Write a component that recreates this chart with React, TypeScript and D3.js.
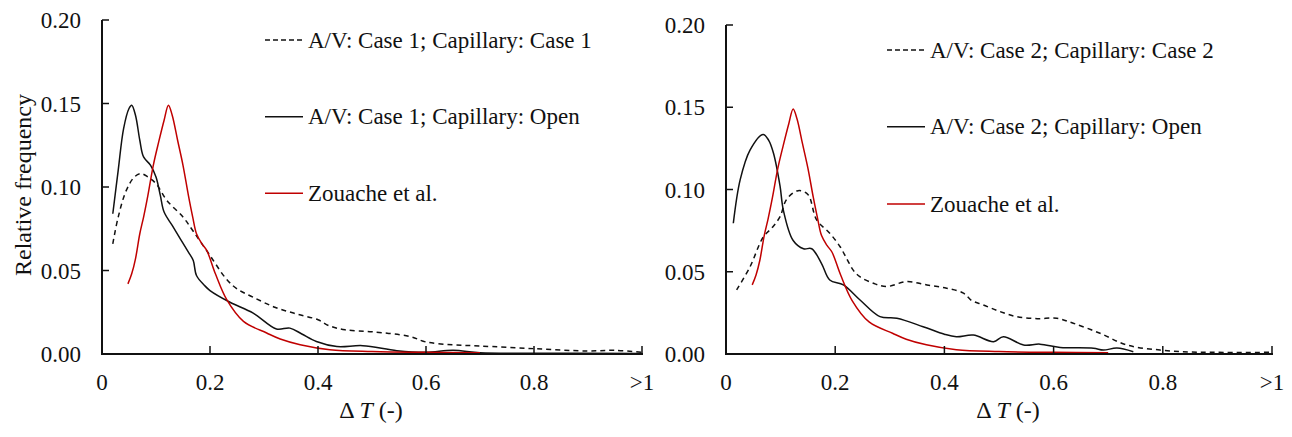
import { useEffect, useRef } from "react";
import * as d3 from "d3";

type Pt = [number, number];

// x ticks (ΔT) and y ticks (relative frequency)
const xTicks = [0, 0.2, 0.4, 0.6, 0.8, 1.0];
const xTickLabels = ["0", "0.2", "0.4", "0.6", "0.8", ">1"];
const yTicks = [0, 0.05, 0.1, 0.15, 0.2];
const yTickLabels = ["0.00", "0.05", "0.10", "0.15", "0.20"];

const legendLeft = [
  "A/V: Case 1; Capillary: Case 1",
  "A/V: Case 1; Capillary: Open",
  "Zouache et al.",
];
const legendRight = [
  "A/V: Case 2; Capillary: Case 2",
  "A/V: Case 2; Capillary: Open",
  "Zouache et al.",
];

// A/V: Case 1; Capillary: Case 1 (dashed)
const case1Case1: Pt[] = [
  [0.02, 0.066], [0.03, 0.082], [0.045, 0.098], [0.06, 0.106], [0.072, 0.108],
  [0.085, 0.106], [0.1, 0.102], [0.12, 0.092], [0.15, 0.082], [0.17, 0.073],
  [0.2, 0.059], [0.23, 0.045], [0.25, 0.039], [0.28, 0.034], [0.32, 0.028],
  [0.36, 0.024], [0.4, 0.0205], [0.42, 0.017], [0.45, 0.0145], [0.5, 0.0133],
  [0.57, 0.0105], [0.6, 0.0072], [0.65, 0.0055], [0.7, 0.0048], [0.8, 0.0032],
  [0.9, 0.0018], [0.95, 0.0022], [1.0, 0.001],
];

// A/V: Case 1; Capillary: Open (solid)
const case1Open: Pt[] = [
  [0.02, 0.084], [0.03, 0.11], [0.04, 0.135], [0.05, 0.147], [0.055, 0.149],
  [0.062, 0.143], [0.07, 0.128], [0.077, 0.118], [0.09, 0.113], [0.1, 0.106],
  [0.108, 0.095], [0.115, 0.085], [0.13, 0.077], [0.145, 0.069], [0.16, 0.061],
  [0.169, 0.056], [0.175, 0.047], [0.19, 0.041], [0.2, 0.038], [0.237, 0.031],
  [0.28, 0.0245], [0.323, 0.015], [0.348, 0.0155], [0.37, 0.012], [0.397, 0.0075],
  [0.435, 0.0045], [0.483, 0.005], [0.546, 0.002], [0.6, 0.001], [0.65, 0.0022],
  [0.7, 0.0008], [0.8, 0.0005], [1.0, 0.0003],
];

// A/V: Case 2; Capillary: Case 2 (dashed)
const case2Case2: Pt[] = [
  [0.0195, 0.039], [0.044, 0.053], [0.068, 0.071], [0.085, 0.077], [0.099, 0.0835],
  [0.111, 0.094], [0.132, 0.0993], [0.15, 0.097], [0.166, 0.0815], [0.19, 0.0734],
  [0.209, 0.0652], [0.221, 0.058], [0.233, 0.051], [0.245, 0.047], [0.27, 0.043],
  [0.294, 0.041], [0.331, 0.044], [0.368, 0.042], [0.404, 0.04], [0.435, 0.037],
  [0.45, 0.0325], [0.47, 0.03], [0.5, 0.026], [0.532, 0.0227], [0.57, 0.0215],
  [0.606, 0.0217], [0.636, 0.0187], [0.685, 0.0126], [0.734, 0.0055], [0.795, 0.0024],
  [0.85, 0.0012], [0.9, 0.001], [1.0, 0.001],
];

// A/V: Case 2; Capillary: Open (solid)
const case2Open: Pt[] = [
  [0.0134, 0.0795], [0.026, 0.106], [0.044, 0.124], [0.068, 0.1335], [0.078, 0.13],
  [0.087, 0.122], [0.099, 0.102], [0.105, 0.0875], [0.123, 0.069], [0.142, 0.064],
  [0.157, 0.064], [0.175, 0.055], [0.19, 0.045], [0.215, 0.042], [0.245, 0.033],
  [0.282, 0.0227], [0.313, 0.0217], [0.361, 0.0166], [0.4, 0.012], [0.422, 0.0105],
  [0.453, 0.0115], [0.49, 0.0075], [0.508, 0.0105], [0.545, 0.0055], [0.575, 0.006],
  [0.612, 0.004], [0.673, 0.0035], [0.691, 0.0024], [0.716, 0.0036], [0.746, 0.0014],
];

// Zouache et al. (red, same in both panels)
const zouache: Pt[] = [
  [0.048, 0.042], [0.055, 0.048], [0.062, 0.057], [0.07, 0.072], [0.077, 0.082],
  [0.085, 0.095], [0.095, 0.113], [0.105, 0.127], [0.115, 0.14], [0.123, 0.149],
  [0.13, 0.143], [0.14, 0.128], [0.15, 0.113], [0.16, 0.095], [0.168, 0.082],
  [0.175, 0.072], [0.185, 0.066], [0.194, 0.062], [0.21, 0.048], [0.231, 0.0325],
  [0.262, 0.0195], [0.305, 0.0126], [0.33, 0.009], [0.367, 0.0056], [0.422, 0.0026],
  [0.5, 0.0015], [0.6, 0.001], [0.7, 0.0008],
];

const FONT =
  '"Liberation Serif", Tinos, "Nimbus Roman", "Nimbus Roman No9 L", FreeSerif, "Noto Serif", "DejaVu Serif", Times, "Times New Roman", serif';
const RED = "#c00000";

interface PanelCfg {
  left: number;
  right: number;
  top: number;
  bottom: number;
  dashed: Pt[];
  solid: Pt[];
  legend: string[];
  legendX: number;
  legendY: number[];
  xLabelX: number;
}

const panels: PanelCfg[] = [
  {
    left: 102, right: 642, top: 20, bottom: 354,
    dashed: case1Case1, solid: case1Open, legend: legendLeft,
    legendX: 265, legendY: [40, 116.7, 193.3], xLabelX: 371,
  },
  {
    left: 726, right: 1272, top: 25, bottom: 354,
    dashed: case2Case2, solid: case2Open, legend: legendRight,
    legendX: 887, legendY: [50, 126.7, 204], xLabelX: 1008,
  },
];

export default function App() {
  const svgRef = useRef<SVGSVGElement>(null);

  useEffect(() => {
    if (!svgRef.current) return;
    const svg = d3.select(svgRef.current);
    svg.selectAll("*").remove();

    panels.forEach((p) => {
      const x = d3.scaleLinear().domain([0, 1]).range([p.left, p.right]);
      const y = d3.scaleLinear().domain([0, 0.2]).range([p.bottom, p.top]);
      const g = svg.append("g");

      const line = d3
        .line<Pt>()
        .x((d) => x(d[0]))
        .y((d) => y(d[1]))
        .curve(d3.curveCatmullRom.alpha(0.5));

      // curves
      g.append("path")
        .datum(p.dashed)
        .attr("fill", "none")
        .attr("stroke", "#111")
        .attr("stroke-width", 1.5)
        .attr("stroke-dasharray", "5,4")
        .attr("d", line);
      g.append("path")
        .datum(p.solid)
        .attr("fill", "none")
        .attr("stroke", "#111")
        .attr("stroke-width", 1.5)
        .attr("d", line);
      g.append("path")
        .datum(zouache)
        .attr("fill", "none")
        .attr("stroke", RED)
        .attr("stroke-width", 1.5)
        .attr("d", line);

      // axes
      g.append("line")
        .attr("x1", x(0)).attr("x2", x(0))
        .attr("y1", y(0.2)).attr("y2", y(0))
        .attr("stroke", "#111").attr("stroke-width", 2);
      g.append("line")
        .attr("x1", x(0) - 1).attr("x2", x(1) + 1)
        .attr("y1", y(0)).attr("y2", y(0))
        .attr("stroke", "#111").attr("stroke-width", 2);

      yTicks.forEach((t, i) => {
        if (t > 0) {
          g.append("line")
            .attr("x1", x(0)).attr("x2", x(0) + 7)
            .attr("y1", y(t)).attr("y2", y(t))
            .attr("stroke", "#111").attr("stroke-width", 1.5);
        }
        g.append("text")
          .attr("x", x(0) - 21)
          .attr("y", y(t))
          .attr("dy", "0.35em")
          .attr("text-anchor", "end")
          .style("font-family", FONT)
          .style("font-size", "23px")
          .attr("fill", "#111")
          .text(yTickLabels[i]);
      });

      xTicks.forEach((t, i) => {
        if (t > 0) {
          g.append("line")
            .attr("x1", x(t)).attr("x2", x(t))
            .attr("y1", y(0)).attr("y2", y(0) - 8)
            .attr("stroke", "#111").attr("stroke-width", 1.5);
        }
        g.append("text")
          .attr("x", x(t))
          .attr("y", 390)
          .attr("text-anchor", "middle")
          .style("font-family", FONT)
          .style("font-size", "23px")
          .attr("fill", "#111")
          .text(xTickLabels[i]);
      });

      // x axis title
      const xt = g.append("text")
        .attr("x", p.xLabelX)
        .attr("y", 418)
        .attr("text-anchor", "middle")
        .style("font-family", FONT)
        .style("font-size", "24px")
        .attr("fill", "#111");
      xt.append("tspan").text("Δ ");
      xt.append("tspan").style("font-style", "italic").text("T");
      xt.append("tspan").text(" (-)");

      // legend
      const styles = [
        { stroke: "#111", dash: "5,3" },
        { stroke: "#111", dash: null },
        { stroke: RED, dash: null },
      ];
      p.legend.forEach((label, i) => {
        const ly = p.legendY[i];
        g.append("line")
          .attr("x1", p.legendX).attr("x2", p.legendX + 38)
          .attr("y1", ly).attr("y2", ly)
          .attr("stroke", styles[i].stroke)
          .attr("stroke-width", 1.5)
          .attr("stroke-dasharray", styles[i].dash);
        g.append("text")
          .attr("x", p.legendX + 43)
          .attr("y", ly + 7.6)
          .style("font-family", FONT)
          .style("font-size", "23px")
          .attr("fill", "#111")
          .text(label);
      });
    });

    // y axis title (left panel only)
    svg.append("text")
      .attr("transform", "translate(31,185) rotate(-90)")
      .attr("text-anchor", "middle")
      .style("font-family", FONT)
      .style("font-size", "24px")
      .attr("fill", "#111")
      .text("Relative frequency");
  }, []);

  return (
    <svg
      ref={svgRef}
      width={1292}
      height={437}
      viewBox="0 0 1292 437"
      style={{ position: "absolute", left: 0, top: 0, background: "#fff" }}
    />
  );
}
